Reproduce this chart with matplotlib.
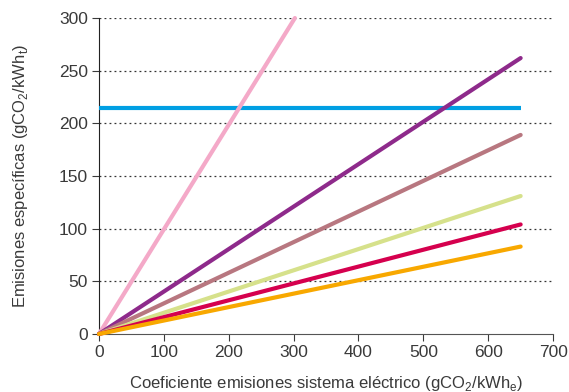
import numpy as np
import matplotlib.pyplot as plt

plt.rcParams['font.family'] = ['Liberation Sans', 'DejaVu Sans']
plt.rcParams['mathtext.fontset'] = 'custom'
plt.rcParams['mathtext.rm'] = 'Liberation Sans'

# end points of each line (all start at the origin)
x_end = [302, 650, 650, 650, 650, 650]
y_end = [300, 262, 189, 131, 104, 83]
colors = ["#F4A9C8", "#8E2A8B", "#B87780", "#D6E18B", "#D5004E", "#F8A800"]

blue_y = 215
blue_x = [0, 650]

xticks = [0, 100, 200, 300, 400, 500, 600, 700]
yticks = [0, 50, 100, 150, 200, 250, 300]

fig = plt.figure(figsize=(5.69, 3.92), dpi=100)
ax = fig.add_axes([0.174, 0.148, 0.798, 0.806])

for y in yticks[1:]:
    ax.plot([0, 700], [y, y], linestyle=(0, (1.5, 2.5)), color="#333333", linewidth=0.9, zorder=1)

ax.plot(blue_x, [blue_y, blue_y], color="#009FE3", linewidth=3, solid_capstyle='butt', zorder=3)
for xe, ye, c in zip(x_end, y_end, colors):
    ax.plot([0, xe], [0, ye], color=c, linewidth=3, solid_capstyle='round', zorder=3, clip_on=False)

ax.set_xlim(0, 700)
ax.set_ylim(0, 300)
ax.set_xticks(xticks)
ax.set_yticks(yticks)
for s in ['top', 'right']:
    ax.spines[s].set_visible(False)
ax.spines['left'].set_color('#222222')
ax.spines['bottom'].set_color('#555555')
ax.tick_params(axis='both', labelsize=12.5, colors='#3a3a3a', length=5, width=0.8, pad=3)

ax.set_xlabel("Coeficiente emisiones sistema eléctrico (gCO$_\\mathrm{2}$/kWh$_\\mathrm{e}$)",
              fontsize=12, color='#3a3a3a', labelpad=10)
ax.set_ylabel("Emisiones específicas (gCO$_\\mathrm{2}$/kWh$_\\mathrm{t}$)",
              fontsize=12, color='#3a3a3a', labelpad=21)

fig.savefig("out.png", dpi=100)
